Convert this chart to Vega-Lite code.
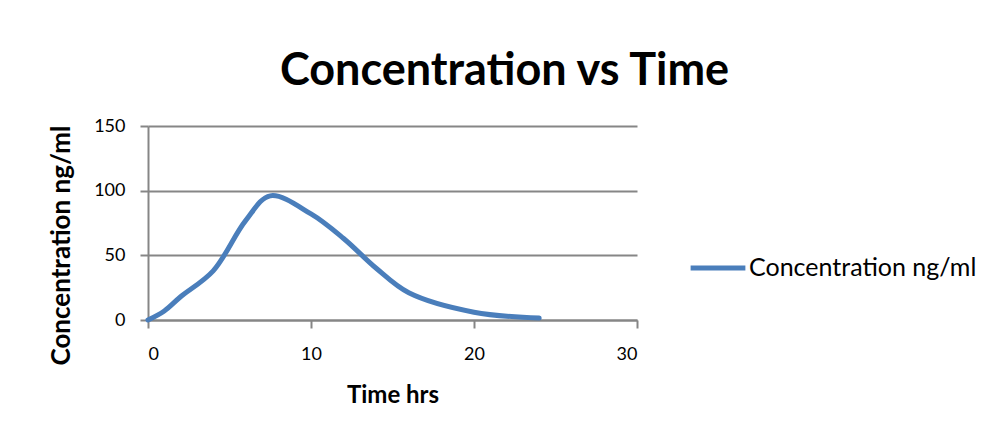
{
  "$schema": "https://vega.github.io/schema/vega-lite/v6.json",
  "width": 489,
  "height": 194,
  "autosize": "none",
  "padding": {"left": 148, "top": 126, "right": 352, "bottom": 119},
  "background": "white",
  "config": {
    "font": "Lato",
    "view": {"stroke": null}
  },
  "title": {
    "text": "Concentration vs Time",
    "font": "Lato",
    "fontSize": 45,
    "fontWeight": "bold",
    "color": "#000000",
    "anchor": "middle",
    "frame": "group",
    "baseline": "alphabetic",
    "dx": 112,
    "dy": 45,
    "offset": 32
  },
  "data": {
    "values": [
      {"time": 0, "conc": 0, "series": "Concentration ng/ml"},
      {"time": 1, "conc": 7, "series": "Concentration ng/ml"},
      {"time": 2, "conc": 18, "series": "Concentration ng/ml"},
      {"time": 4, "conc": 38, "series": "Concentration ng/ml"},
      {"time": 6, "conc": 77, "series": "Concentration ng/ml"},
      {"time": 7.5, "conc": 96, "series": "Concentration ng/ml"},
      {"time": 10, "conc": 82, "series": "Concentration ng/ml"},
      {"time": 12, "conc": 63, "series": "Concentration ng/ml"},
      {"time": 14, "conc": 40, "series": "Concentration ng/ml"},
      {"time": 16, "conc": 21, "series": "Concentration ng/ml"},
      {"time": 20, "conc": 6, "series": "Concentration ng/ml"},
      {"time": 24, "conc": 1.5, "series": "Concentration ng/ml"}
    ]
  },
  "mark": {"type": "line", "interpolate": "catmull-rom", "strokeWidth": 5, "strokeCap": "round"},
  "encoding": {
    "x": {
      "field": "time",
      "type": "quantitative",
      "scale": {"domain": [0, 30], "nice": false},
      "axis": {
        "title": "Time hrs",
        "values": [0, 10, 20, 30],
        "grid": false,
        "domainColor": "#868686",
        "domainWidth": 2,
        "tickColor": "#868686",
        "tickWidth": 2,
        "tickSize": 8,
        "labelFont": "Lato",
        "labelFontSize": 18,
        "labelColor": "#000000",
        "labelPadding": 17,
        "titleFont": "Lato",
        "titleFontSize": 24,
        "titleFontWeight": "bold",
        "titleColor": "#000000",
        "titlePadding": 20
      }
    },
    "y": {
      "field": "conc",
      "type": "quantitative",
      "scale": {"domain": [0, 150], "nice": false},
      "axis": {
        "title": "Concentration ng/ml",
        "values": [0, 50, 100, 150],
        "grid": true,
        "gridColor": "#868686",
        "gridWidth": 2,
        "domainColor": "#868686",
        "domainWidth": 2,
        "tickColor": "#868686",
        "tickWidth": 2,
        "tickSize": 8,
        "labelFont": "Lato",
        "labelFontSize": 18,
        "labelColor": "#000000",
        "labelPadding": 15,
        "titleFont": "Lato",
        "titleFontSize": 26,
        "titleFontWeight": "bold",
        "titleColor": "#000000",
        "titleAngle": -90,
        "titleAlign": "center",
        "titleBaseline": "middle",
        "titleX": -87,
        "titleY": 119
      }
    },
    "color": {
      "field": "series",
      "type": "nominal",
      "scale": {"range": ["#4a7ebb"]},
      "legend": {
        "title": null,
        "orient": "none",
        "legendX": 540,
        "legendY": 112,
        "symbolType": "stroke",
        "symbolSize": 3000,
        "symbolStrokeWidth": 5,
        "labelFont": "Lato",
        "labelFontSize": 25,
        "labelLimit": 400,
        "labelColor": "#000000",
        "labelOffset": 1
      }
    }
  }
}
